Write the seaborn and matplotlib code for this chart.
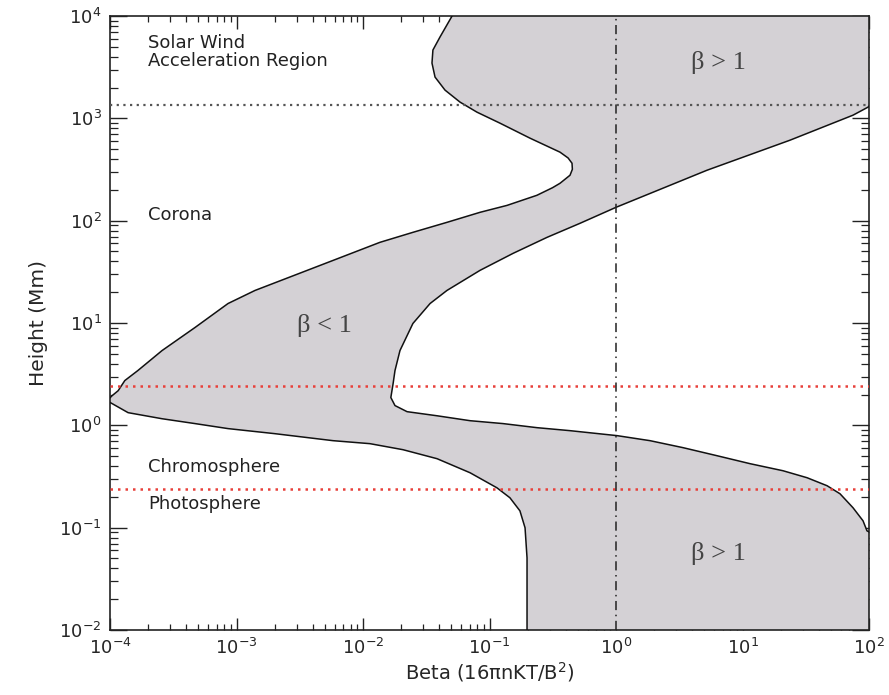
import numpy as np
import matplotlib
matplotlib.use("Agg")
import matplotlib.pyplot as plt
import seaborn as sns

# Lower edge of the plasma-beta band (minimum beta) versus height, bottom to top
height_low = [0.01, 0.0507, 0.0997, 0.146, 0.196, 0.245, 0.344, 0.472, 0.578, 0.662,
              0.708, 0.829, 0.929, 1.04, 1.16, 1.33, 1.74, 1.95, 2.18, 2.74,
              3.43, 5.38, 9.04, 15.5, 20.8, 40.9, 61.4, 76.9, 96.3, 120.7,
              141, 177, 210, 232, 278, 318, 364, 410, 467, 640,
              897, 1149, 1440, 1887, 2530, 3467, 4650, 6230, 8540, 10000]
beta_low = [0.198, 0.198, 0.191, 0.174, 0.145, 0.1146, 0.0702, 0.0385, 0.0207, 0.01135,
            0.0058, 0.00201, 0.000857, 0.00047, 0.000258, 0.000139, 0.0000947, 0.000104, 0.000116, 0.000131,
            0.000166, 0.000258, 0.00047, 0.000857, 0.0014, 0.0058, 0.0136, 0.0248, 0.0461, 0.0842,
            0.1375, 0.237, 0.315, 0.361, 0.433, 0.452, 0.449, 0.418, 0.361, 0.209,
            0.121, 0.0796, 0.0585, 0.0445, 0.0371, 0.0351, 0.0357, 0.0406, 0.0470, 0.0506]

# Upper edge of the band (maximum beta) versus height, bottom to top
height_high = [0.01, 0.06, 0.0931, 0.1167, 0.1564, 0.2144, 0.257, 0.3076, 0.360, 0.4217,
               0.505, 0.605, 0.708, 0.793, 0.887, 0.949, 1.04, 1.11, 1.24, 1.36,
               1.56, 1.87, 2.56, 3.43, 5.38, 9.89, 15.5, 20.8, 32.7, 47.9,
               68.7, 94.2, 135, 311, 611, 1074, 1286, 3000, 10000]
beta_high = [250, 200, 96.4, 89.7, 74.8, 59.0, 46.6, 32.4, 20.9, 11.5,
             6.28, 3.39, 1.86, 1.02, 0.433, 0.237, 0.128, 0.0702, 0.0385, 0.0223,
             0.0179, 0.0166, 0.0173, 0.0179, 0.0196, 0.0248, 0.0339, 0.0461, 0.0842, 0.1535,
             0.285, 0.519, 1.0, 5.24, 23.7, 74.8, 98.2, 200, 300]

# Axis decades
beta_ticks = [1e-4, 1e-3, 1e-2, 1e-1, 1e0, 1e1, 1e2]
height_ticks = [1e-2, 1e-1, 1e0, 1e1, 1e2, 1e3, 1e4]

# Layer boundaries (Mm)
layer_heights = [0.24, 2.45]
wind_height = 1350.0
beta_unity = 1.0

sns.set_theme(style="ticks")
plt.rcParams["font.family"] = ["DejaVu Sans"]
plt.rcParams["mathtext.fontset"] = "dejavusans"

fig = plt.figure(figsize=(8.89, 6.95), dpi=100)
ax = fig.add_axes([110 / 889, 1 - 630 / 695, 759 / 889, 614 / 695])
ax.set_xscale("log")
ax.set_yscale("log")

# Shaded band between the two edges
poly_x = np.concatenate([beta_low, beta_high[::-1]])
poly_y = np.concatenate([height_low, height_high[::-1]])
ax.fill(poly_x, poly_y, color="#d4d1d5", lw=0, zorder=1)

sns.lineplot(x=beta_low, y=height_low, sort=False, estimator=None,
             color="#111111", lw=1.1, ax=ax, zorder=3)
sns.lineplot(x=beta_high, y=height_high, sort=False, estimator=None,
             color="#111111", lw=1.1, ax=ax, zorder=3)

for h in layer_heights:
    ax.axhline(h, color="#e8403a", ls=(0, (1, 2)), lw=1.8, zorder=4)
ax.axhline(wind_height, color="#555555", ls=(0, (1, 2)), lw=1.6, zorder=4)
ax.axvline(beta_unity, color="#222222", ls=(0, (6, 3, 1, 3)), lw=1.1, zorder=4)

# Region annotations
txt = dict(fontsize=13, color="#222222", ha="left", va="center", zorder=5)
ax.text(2.0e-4, 4450, "Solar Wind\nAcceleration Region", linespacing=1.05, **txt)
ax.text(2.0e-4, 113, "Corona", **txt)
ax.text(2.0e-4, 0.394, "Chromosphere", **txt)
ax.text(2.0e-4, 0.171, "Photosphere", **txt)

beta_txt = dict(fontsize=19, color="#444444", ha="center", va="center",
                family=["Liberation Serif", "DejaVu Serif"], zorder=5)
ax.text(0.005, 9.5, "β < 1", **beta_txt)
ax.text(6.5, 3550, "β > 1", **beta_txt)
ax.text(6.5, 0.0555, "β > 1", **beta_txt)

ax.set_xticks(beta_ticks)
ax.set_yticks(height_ticks)
ax.set_xlim(beta_ticks[0], beta_ticks[-1])
ax.set_ylim(height_ticks[0], height_ticks[-1])

ax.set_xlabel("Beta (16πnKT/B$^2$)", fontsize=14, labelpad=1)
ax.set_ylabel("Height (Mm)", fontsize=14.5, labelpad=8)

for s in ax.spines.values():
    s.set_linewidth(1.2)
    s.set_color("#222222")
ax.tick_params(axis="both", which="both", direction="in", top=True, right=True,
               color="#222222", labelsize=13)
ax.tick_params(axis="x", which="major", length=9, width=1.0, pad=6)
ax.tick_params(axis="x", which="minor", length=4.5, width=0.9)
ax.tick_params(axis="y", which="major", length=12, width=1.0, pad=6)
ax.tick_params(axis="y", which="minor", length=6, width=0.9)
ax.xaxis.set_minor_locator(matplotlib.ticker.LogLocator(base=10, subs=np.arange(2, 10), numticks=20))
ax.yaxis.set_minor_locator(matplotlib.ticker.LogLocator(base=10, subs=np.arange(2, 10), numticks=20))
ax.xaxis.set_minor_formatter(matplotlib.ticker.NullFormatter())
ax.yaxis.set_minor_formatter(matplotlib.ticker.NullFormatter())

fig.savefig("out.png", dpi=100, facecolor="white")
